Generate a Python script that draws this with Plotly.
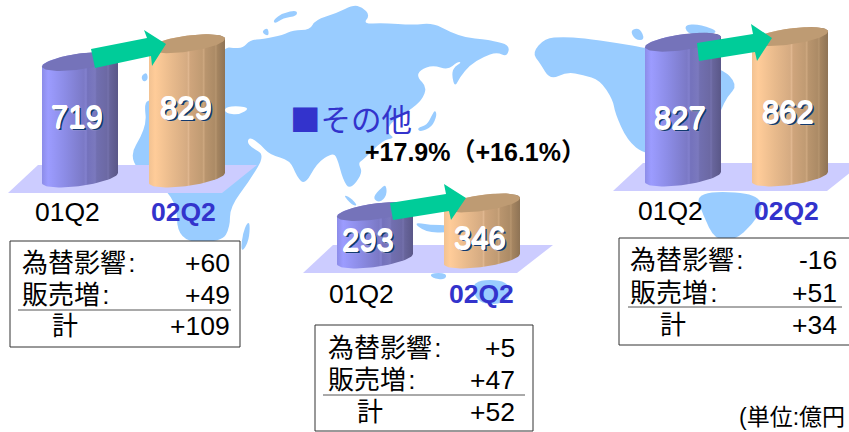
import numpy as np
import plotly.graph_objects as go

W, H = 849, 432
FONT = "Liberation Sans, Arial, Noto Sans CJK JP"
CJK = "Noto Sans CJK JP"
BLUE = "#3333CC"

# ---- data
periods = ["01Q2", "02Q2"]
left_values = [719, 829]
centre_values = [293, 346]
right_values = [827, 862]
row_labels = ["為替影響\u200a:", "販売増\u200a:", "計"]
left_rows = ["+60", "+49", "+109"]
centre_rows = ["+5", "+47", "+52"]
right_rows = ["-16", "+51", "+34"]
title_text = "■その他"
growth_text = "+17.9%（+16.1%）"
unit_text = "(単位:億円"

# ---- styles
PURPLE = [[0, "#8C8CE8"], [.08, "#9C9CFF"], [.3, "#8C8CE6"], [.55, "#7B79C6"], [.58, "#8381CE"], [.6, "#7472BC"],
          [.7, "#7B79BE"], [.72, "#716FB0"], [.85, "#6C69A4"], [.87, "#7471AC"], [.89, "#68659C"], [1, "#5A5788"]]
TAN = [[0, "#F2C292"], [.08, "#FFCC99"], [.3, "#E8BA8C"], [.5, "#D5AB82"], [.52, "#E0B790"], [.54, "#CFA57C"],
       [.7, "#C09B73"], [.72, "#CEA880"], [.74, "#B9956E"], [.86, "#AC8B66"], [.88, "#B6956F"], [.9, "#A58561"], [1, "#8E7355"]]
TOP_PURPLE, TOP_TAN = "#7573BA", "#BE9B73"
MAP = "#99CCFF"
FLOOR = "#CCCCFF"
GREEN = "#00CC99"
CYL_HALF = 38

def smooth(pts):
    p = np.array(pts, float)
    m = (p + np.roll(p, -1, axis=0)) / 2
    d = f"M{m[-1][0]:.1f},{m[-1][1]:.1f}"
    for i in range(len(p)):
        d += f" Q{p[i][0]:.1f},{p[i][1]:.1f} {m[i][0]:.1f},{m[i][1]:.1f}"
    return d + " Z"

def straight(pts):
    return "M" + " L".join(f"{x},{y}" for x, y in pts) + " Z"

land = [
    [(225,47),(233,48),(243,48),(250,40),(263,39),(283,35),(293,30),(310,30),(315,20),(337,13),(353,5),(362,7),(370,15),
     (363,24),(383,23),(413,25),(433,23),(450,32),(467,38),(483,39),(493,41),(510,45),(507,57),(497,52),(483,57),(470,65),
     (460,77),(455,87),(452,77),(453,68),(462,62),(457,62),(448,70),(433,65),(420,70),(417,77),(427,87),(422,100),(410,110),
     (390,123),(387,133),(395,138),(383,140),(363,160),(358,163),(363,173),(350,190),(343,180),(337,157),(332,153),(317,163),
     (305,185),(297,177),(290,160),(270,155),(260,144),(250,137),(247,142),(252,148),(265,155),(250,180),(230,207),(230,227),
     (222,242),(177,242),(177,195),(125,163),(147,127),(144,102),(152,100)],
    [(261,32),(268,27),(269,37)],
    [(273,20),(283,13),(297,10),(297,16),(283,18),(275,24)],
    [(141,76),(147,72),(148,80),(143,82)],
    [(435,110),(437,115),(432,127),(420,132),(417,128),(427,125),(432,115)],
    [(343,195),(350,197),(358,206),(352,205)],
    [(372,198),(382,187),(386,185),(387,195),(380,203)],
    [(413,222),(430,225),(450,225),(450,233),(425,232)],
    [(430,273),(447,273),(445,280),(432,278)],
    [(470,280),(510,280),(510,303),(478,305)],
    [(247,223),(250,223),(249,240),(243,251),(241,248),(243,233)],
    [(532,53),(545,38),(563,37),(583,38),(617,43),(647,48),(721,67),(738,85),(727,97),(721,110),(700,160),(645,155),(627,140),
     (615,113),(613,100),(600,80),(583,75),(567,72),(550,80),(540,63)],
    [(630,30),(640,28),(645,40),(635,40)],
    [(683,25),(700,24),(722,33),(690,36)],
    [(695,192),(750,192),(765,205),(752,225),(735,240),(715,240),(703,215)],
]
floors = [[(8,193),(38,165),(257,165),(222,193)],
          [(303,273),(333,245),(553,245),(517,273)],
          [(613,191),(643,163),(862,163),(827,191)]]
arrows = [[(91,49),(147,38),(144,30),(166,44),(152,66),(151,56),(95,68)],
          [(390,203),(446,194),(444,184),(466,198),(451,220),(449,211),(393,220)],
          [(697,43),(753,34),(751,24),(772,38),(757,61),(755,52),(699,61)]]
boxes = [(10,241,240,347),(315,325,533,431),(619,238,860,345)]
rules = [(18,231,310),(323,525,395),(628,842,307)]

shapes = [dict(type="path", path=smooth(p), fillcolor=MAP, line_width=0, layer="below", xref="x", yref="y") for p in land]
shapes.append(dict(type="path", path=smooth([(225,107),(238,106),(250,108),(239,115),(225,113)]), fillcolor="white",
                   line_width=0, layer="below", xref="x", yref="y"))
shapes += [dict(type="path", path=straight(p), fillcolor=FLOOR, line_width=0, layer="below", xref="x", yref="y") for p in floors]
for x0, y0, x1, y1 in boxes:
    shapes.append(dict(type="rect", x0=x0, y0=y0, x1=x1, y1=y1, fillcolor="white",
                       line=dict(color="#333333", width=1), layer="below", xref="x", yref="y"))
for x0, x1, y in rules:
    shapes.append(dict(type="line", x0=x0, x1=x1, y0=y, y1=y, line=dict(color="#555555", width=1), layer="below", xref="x", yref="y"))
shapes += [dict(type="path", path=straight(p), fillcolor=GREEN, line_width=0, layer="above", xref="x", yref="y") for p in arrows]

fig = go.Figure()

def cylinder(cx, value, yaxis, scale, colors, top):
    t = np.linspace(0, np.pi, 40)
    tilt, minor = 5 / scale, 8 / scale
    ex = np.cos(t)
    front = minor * np.sin(t) - tilt * ex
    xs = cx + CYL_HALF * ex
    body_x = list(xs) + list(xs[::-1])
    body_y = list(-front) + list(value + (minor * np.sin(t) + tilt * ex)[::-1])
    fig.add_trace(go.Scatter(x=body_x + body_x[:1], y=body_y + body_y[:1], yaxis=yaxis, mode="lines", line_width=0,
                             fill="toself", hoverinfo="skip",
                             fillgradient=dict(type="horizontal", colorscale=colors, start=cx - CYL_HALF, stop=cx + CYL_HALF)))
    tt = np.linspace(0, 2 * np.pi, 80)
    lx = cx + CYL_HALF * np.cos(tt)
    ly = value - minor * np.sin(tt) + tilt * np.cos(tt)
    fig.add_trace(go.Scatter(x=lx, y=ly, yaxis=yaxis, mode="lines", line_width=0, fill="toself", fillcolor=top, hoverinfo="skip"))

panels = [
    (left_values, (80, 187), "y2", .162),
    (centre_values, (375, 482), "y3", .162),
    (right_values, (683, 790), "y4", .163),
]
for vals, cxs, ya, s in panels:
    cylinder(cxs[0], vals[0], ya, s, PURPLE, TOP_PURPLE)
    cylinder(cxs[1], vals[1], ya, s, TAN, TOP_TAN)

anns = []
def text(x, y, s, size, color="black", anchor="center", bold=False, family=FONT, shadow=None):
    if bold:
        s = f"<b>{s}</b>"
    font = dict(family=family, size=size, color=color)
    if shadow:
        font["shadow"] = shadow
    anns.append(dict(x=x, y=y, xref="x", yref="y", text=s, showarrow=False, xanchor=anchor, yanchor="middle", font=font))

GLOW = ("0.6px 0 0 #FFFFFF, -0.6px 0 0 #FFFFFF, 0 0.6px 0 #FFFFFF, 0 -0.6px 0 #FFFFFF, "
        "2px 2px 0 #123A6E, 1.5px 1.5px 1px #D8D8D8")
for (x, y), v in zip([(77,117),(186,108),(368,240),(480,238),(680,118),(788,112)],
                     left_values + centre_values + right_values):
    text(x, y, str(v), 31, "#FFFFFF", shadow=GLOW)

for (x0, x1, y) in [(67,183,212),(361,481,294),(670,786,211)]:
    text(x0, y, periods[0], 26.5)
    text(x1, y, periods[1], 26.5, BLUE, bold=True)

text(288, 118, title_text, 30.5, BLUE, anchor="left", family=CJK)
text(363, 152, growth_text, 25, anchor="left", bold=True)
text(737, 417, unit_text, 23, anchor="left")

table_pos = [(20, 50, 232, (263,295,326), left_rows),
             (326, 355, 517, (348,380,412), centre_rows),
             (628, 658, 839, (260,293,325), right_rows)]
for xl, xt, xr, ys, rows in table_pos:
    text(xl, ys[0], row_labels[0], 26, anchor="left")
    text(xl, ys[1], row_labels[1], 26, anchor="left")
    text(xt, ys[2], row_labels[2], 26, anchor="left")
    for y, r in zip(ys, rows):
        text(xr, y, r, 26.5, anchor="right")

def panel_axis(base, scale):
    return dict(range=[-(H - base) / scale, base / scale], overlaying="y", visible=False, fixedrange=True, anchor="x")

fig.update_layout(
    width=W, height=H, autosize=False, margin=dict(l=0, r=0, t=0, b=0),
    paper_bgcolor="white", plot_bgcolor="white", showlegend=False,
    xaxis=dict(range=[0, W], visible=False, fixedrange=True),
    yaxis=dict(range=[H, 0], visible=False, fixedrange=True),
    yaxis2=panel_axis(178, .162),
    yaxis3=panel_axis(259, .162),
    yaxis4=panel_axis(177, .163),
    shapes=shapes, annotations=anns,
)
fig.write_html("out.html", config=dict(displayModeBar=False),
               post_script="document.body.style.margin='0';document.documentElement.style.overflow='hidden';")
